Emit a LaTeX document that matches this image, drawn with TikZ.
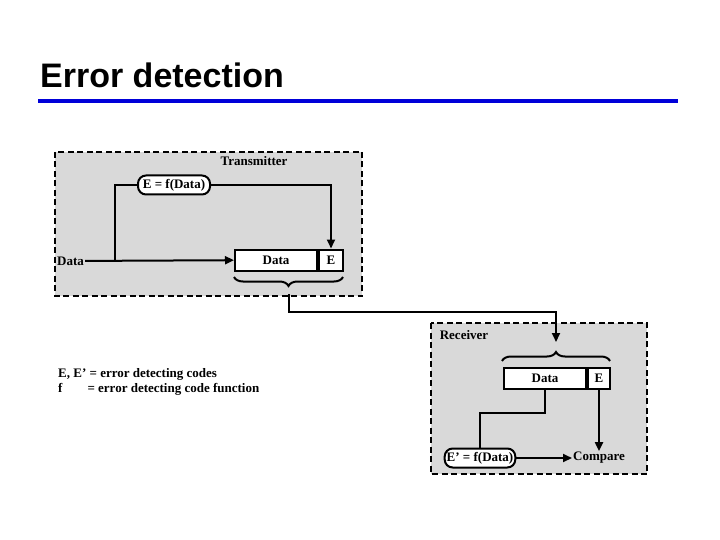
\documentclass[tikz,border=0pt]{standalone}
\usepackage{fontspec}
\setmainfont{Liberation Serif}
\newfontfamily\titlefont{Liberation Sans}
\usetikzlibrary{decorations.pathreplacing,arrows.meta}

\begin{document}
\begin{tikzpicture}[x=1pt,y=-1pt,
	lw/.style={line width=2pt},
	panel/.style={draw, line width=2pt, fill=gray!30, dash pattern=on 6pt off 3.5pt},
	field/.style={draw, lw, fill=white, minimum height=21pt, inner sep=0pt, font=\bfseries\fontsize{13}{15}\selectfont},
	func/.style={draw, lw, fill=white, rounded corners=8pt, minimum height=19pt, inner sep=2pt, font=\bfseries\fontsize{13}{15}\selectfont},
	lbl/.style={font=\bfseries\fontsize{13}{15}\selectfont, inner sep=1pt},
	flow/.style={lw, -{Triangle[length=9pt,width=8pt]}},
	wire/.style={lw}]

	\useasboundingbox (0,0) rectangle (720,540);

	\node (title) [anchor=base west, font=\titlefont\bfseries\fontsize{34}{38}\selectfont, inner sep=0pt] at (40,88) {Error detection};
	\draw[blue!85!black, line width=4.5pt] (38,101) -- (678,101);

	% transmitter
	\draw[panel] (55,152) rectangle (362,296);
	\node (tx) [lbl] at (254,161) {Transmitter};
	\node (fx) [func, minimum width=72pt] at (174,185) {E = f(Data)};
	\node (din) [lbl, anchor=west] at (56,261) {Data};
	\node (td) [field, minimum width=82pt, anchor=west] at (234,260) {Data};
	\node (te) [field, minimum width=24pt, anchor=west] at (td.east) {E};
	\coordinate (tb) at (115,260);
	\draw[flow] (din) -- (td);
	\draw[wire] (tb) |- (fx);
	\draw[flow] (fx) -| (te);
	\draw[lw, decorate, decoration={brace, mirror, amplitude=9pt}] (234,277) -- (343,277);
	\coordinate (ttip) at (289,294);

	% receiver
	\draw[panel] (431,323) rectangle (647,474);
	\node (rx) [lbl] at (464,335) {Receiver};
	\draw[lw, decorate, decoration={brace, amplitude=9pt}] (502,361) -- (610,361);
	\coordinate (rtip) at (556,342);
	\node (rd) [field, minimum width=82pt, anchor=west] at (503,378) {Data};
	\node (re) [field, minimum width=22pt, anchor=west] at (rd.east) {E};
	\node (gx) [func, minimum width=68pt] at (480,458) {E' = f(Data)};
	\node (cmp) [lbl, anchor=west] at (572,458) {Compare};
	\draw[wire] (rd.south) -- ++(0,23) -| (gx.north);
	\draw[flow] (gx) -- (cmp);
	\draw[flow] (re.south) -- (re.south |- cmp.north);

	% link
	\draw[flow] (ttip) |- (556,312) -- (rtip);

	% legend
	\node (k1) [lbl, anchor=west] at (57,374) {E, E' = error detecting codes};
	\node (k2) [lbl, anchor=west] at (57,389) {f\hspace{25pt}= error detecting code function};
\end{tikzpicture}
\end{document}
